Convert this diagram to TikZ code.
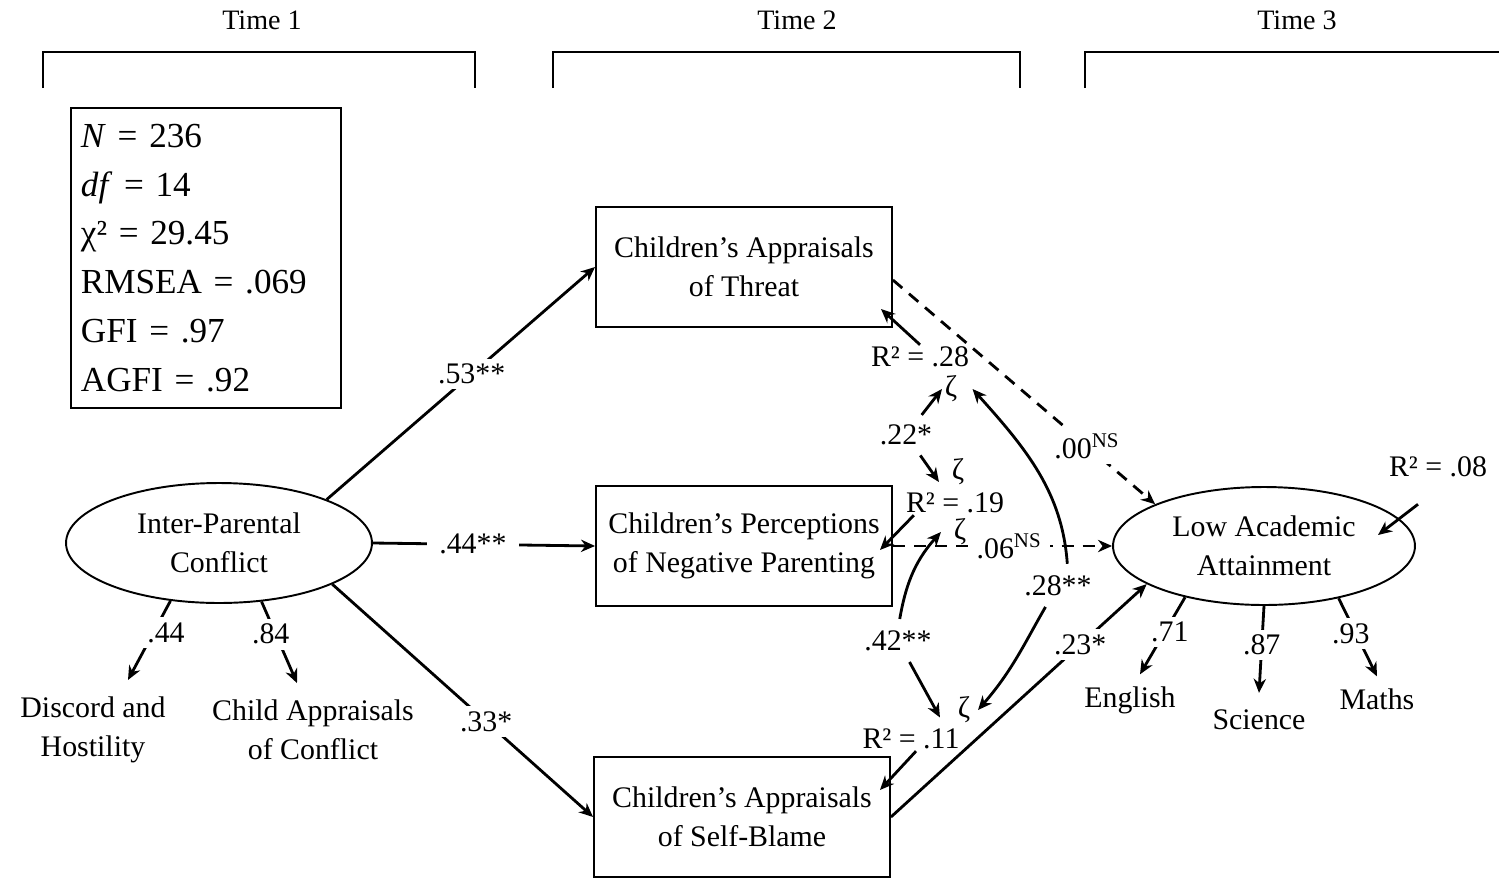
\documentclass[tikz,border=0pt]{standalone}
\usepackage{fontspec}
\setmainfont{Liberation Serif}
\usetikzlibrary{shapes.geometric, arrows.meta, positioning}

\begin{document}
\begin{tikzpicture}[x=0.02cm, y=-0.02cm, font=\fontsize{17}{22}\selectfont]
  \tikzstyle{block} = [rectangle, draw, line width=1.1pt, align=center, minimum width=5.92cm, minimum height=2.4cm]
  \tikzstyle{latent} = [ellipse, draw, line width=1.1pt, align=center, inner sep=0pt]
  \tikzstyle{plain} = [align=center, inner sep=1pt]
  \tikzstyle{zeta} = [inner sep=0pt]
  \tikzstyle{lbl} = [fill=white, inner xsep=7pt, inner ysep=3pt]
  \tikzstyle{arrow} = [line width=1.6pt, -{Stealth[length=8pt, width=7pt]}]
  \tikzstyle{dasharrow} = [arrow, dash pattern=on 7pt off 5pt]
  \tikzstyle{cov} = [arrow, shorten <=0.2cm]
  \tikzstyle{bracket} = [line width=1.1pt]

  \useasboundingbox (0,0) rectangle (1499,880);

  \node[font=\fontsize{16}{19}\selectfont] (t1) at (262,20) {Time 1};
  \node[font=\fontsize{16}{19}\selectfont] (t2) at (797,20) {Time 2};
  \node[font=\fontsize{16}{19}\selectfont] (t3) at (1297,20) {Time 3};
  \draw[bracket] (43,88) -- (43,52) -- (475,52) -- (475,88);
  \draw[bracket] (553,88) -- (553,52) -- (1020,52) -- (1020,88);
  \draw[bracket] (1085,88) -- (1085,52) -- (1499,52);

  \node[draw, line width=1.1pt, anchor=north west, text width=5cm, inner xsep=0.2cm, inner ysep=0.1cm, minimum height=6cm, align=left, font=\fontsize{20}{27.8}\selectfont] (fit) at (70,107)
    {\textit{N} = 236\\ \textit{df} = 14\\ χ² = 29.45\\ RMSEA = .069\\ GFI = .97\\ AGFI = .92};

  \node[block] (threat) at (744,267) {Children's Appraisals\\of Threat};
  \node[block] (parent) at (744,546) {Children's Perceptions\\of Negative Parenting};
  \node[block] (blame) at (742,817) {Children's Appraisals\\of Self-Blame};
  \node[latent, minimum width=6.12cm, minimum height=2.4cm] (ipc) at (219,543) {Inter-Parental\\Conflict};
  \node[latent, minimum width=6.04cm, minimum height=2.36cm] (laa) at (1264,546) {Low Academic\\Attainment};

  \node[plain] (disc) at (93,730) {Discord and\\Hostility};
  \node[plain] (capp) at (313,730) {Child Appraisals\\of Conflict};
  \node[plain] (eng) at (1130,700) {English};
  \node[plain] (sci) at (1259,720) {Science};
  \node[plain] (maths) at (1377,699) {Maths};

  \node[plain] (r28) at (920,357) {R² = .28};
  \node[zeta] (zt) at (951,389) {ζ};
  \node[plain] (c22) at (906,435) {.22*};
  \node[zeta] (zp1) at (958,472) {ζ};
  \node[plain] (r19) at (955,503) {R² = .19};
  \node[zeta] (zp2) at (960,532) {ζ};
  \node[plain] (c42) at (898,641) {.42**};
  \node[zeta] (zs) at (964,710) {ζ};
  \node[plain] (r11) at (911,739) {R² = .11};
  \node[plain] (c28) at (1058,586) {.28**};
  \node[plain] (r08) at (1438,467) {R² = .08};

  \coordinate (tin) at (881,309);
  \coordinate (pin) at (880,550);
  \coordinate (bin) at (880,790);
  \coordinate (lin) at (1378,535);

  \draw[arrow] (ipc.22) -- node[lbl, pos=0.54] {.53**} (threat.west);
  \draw[arrow] (ipc.east) -- node[lbl, pos=0.45] {.44**} (parent.west);
  \draw[arrow] (ipc.-20) -- node[lbl, pos=0.59] {.33*} (blame.west);

  \draw[arrow] (ipc.230) -- node[lbl, pos=0.4, xshift=0.25cm] {.44} ([xshift=0.7cm, yshift=0.3cm]disc.north);
  \draw[arrow] (ipc.-54) -- node[lbl, pos=0.4, xshift=-0.1cm] {.84} ([xshift=-0.32cm, yshift=0.3cm]capp.north);
  \draw[arrow] (laa.213) -- node[lbl, pos=0.45, xshift=0.1cm] {.71} ([xshift=0.2cm, yshift=0.2cm]eng.north);
  \draw[arrow] (laa.south) -- node[lbl, pos=0.45] {.87} ([yshift=0.3cm]sci.north);
  \draw[arrow] (laa.-35) -- node[lbl, pos=0.45, xshift=-0.1cm] {.93} ([yshift=0.2cm]maths.north);

  \draw[dasharrow] (threat.-5) -- node[lbl, pos=0.74] {.00\textsuperscript{NS}} (laa.159);
  \draw[dasharrow] (parent.east) -- node[lbl, pos=0.53, inner xsep=5pt] {.06\textsuperscript{NS}} (laa.west);
  \draw[arrow] (blame.east) -- node[lbl, pos=0.74] {.23*} (laa.198);

  \draw[arrow] (r28.north) -- (tin);
  \draw[arrow] ([xshift=0.2cm]r19.south west) -- (pin);
  \draw[arrow] ([xshift=0.1cm]r11.south) -- (bin);
  \draw[arrow] ([xshift=-0.4cm, yshift=-0.5cm]r08.south) -- (lin);

  \draw[cov] (c22) -- ([xshift=-0.05cm]zt.west);
  \draw[cov] (c22) -- ([xshift=-0.25cm, yshift=-0.2cm]zp1.west);
  \draw[cov] (c42.north) to[out=80, in=228] ([xshift=-0.25cm]zp2.west);
  \draw[cov] (c42) -- ([xshift=-0.35cm, yshift=-0.15cm]zs.west);
  \draw[cov] ([xshift=0.2cm]c28.north) to[out=94, in=-48] ([xshift=0.3cm]zt.east);
  \draw[cov] ([xshift=-0.15cm]c28.south) to[out=-120, in=49] ([xshift=0.15cm]zs.east);
\end{tikzpicture}
\end{document}
